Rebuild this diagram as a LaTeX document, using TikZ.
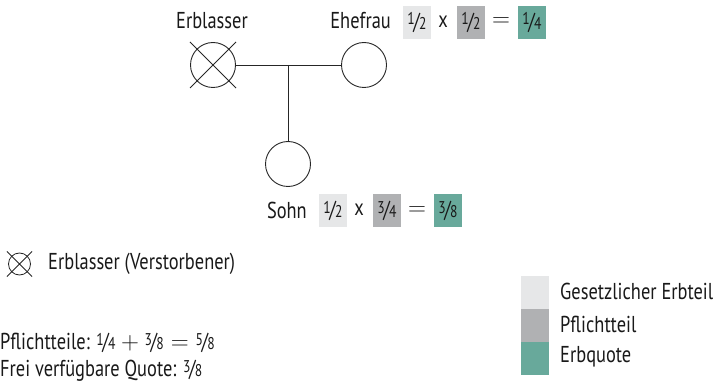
\documentclass[tikz,border=0pt]{standalone}
\usepackage{fontspec}
\setmainfont{PT Sans}[FakeStretch=0.8]
\definecolor{lgray}{HTML}{E6E7E8}
\definecolor{mgray}{HTML}{B0B1B3}
\definecolor{teal2}{HTML}{68A99B}
\newcommand\fr[2]{\raisebox{4.5pt}{\fontsize{17}{17}\selectfont#1}\kern-0.06em/\kern-0.03em{\fontsize{17}{17}\selectfont#2}}
\begin{document}
\begin{tikzpicture}[x=1pt,y=-1pt,
  txt/.style={font=\fontsize{23}{27}\selectfont, inner sep=0pt, text=black!90},
  person/.style={circle, draw=black!85, line width=0.9pt, minimum size=45pt, inner sep=0pt},
  fbox/.style={txt, minimum width=28pt, minimum height=33pt},
  line/.style={draw=black!85, line width=0.9pt},
  legbox/.style={minimum width=28pt, minimum height=33pt, inner sep=0pt}]
\useasboundingbox (0,0) rectangle (713,385);
% people
\node[person] (erb) at (213,65) {};
\draw[line] (190,42) -- (236,88) (190,88) -- (236,42);
\node[person] (ehe) at (364,65) {};
\node[person] (sohn) at (288,164) {};
\coordinate (mid) at (288,65);
\draw[line] (erb) -- (ehe);
\draw[line] (mid) -- (sohn);
% labels
\node[txt] (lerb) at (212,21) {Erblasser};
\node[txt, anchor=east] (lehe) at (391,21) {Ehefrau};
\node[fbox, fill=lgray] (e1) at (417,22.5) {\fr12};
\node[txt] (ex) at (443,21.5) {x};
\node[fbox, fill=mgray] (e2) at (471,22.5) {\fr12};
\node[txt] (eeq) at (501,22.5) {$=$};
\node[fbox, fill=teal2] (e3) at (532,22.5) {\fr14};
\node[txt, anchor=east] (lsohn) at (307,210) {Sohn};
\node[fbox, fill=lgray] (s1) at (333,211) {\fr12};
\node[txt] (sx) at (359,210) {x};
\node[fbox, fill=mgray] (s2) at (387,211) {\fr34};
\node[txt] (seq) at (417,211) {$=$};
\node[fbox, fill=teal2] (s3) at (448,211) {\fr38};
% legend symbol
\node[circle, draw=black!85, line width=0.8pt, minimum size=22pt, inner sep=0pt] (sym) at (19.5,264) {};
\draw[line, line width=0.8pt] (7,251.5) -- (32,276.5) (7,276.5) -- (32,251.5);
\node[txt, anchor=west] (lsym) at (48,264) {Erblasser (Verstorbener)};
\node[txt, anchor=west] (pf) at (0,343) {Pflichtteile: \fr14${}+{}$\fr38${}={}$\fr58};
\node[txt, anchor=west] (fq) at (0,371) {Frei verfügbare Quote: \fr38};
% colour legend
\node[legbox, fill=lgray] (k1) at (535,292) {};
\node[legbox, fill=mgray] (k2) at (535,325) {};
\node[legbox, fill=teal2] (k3) at (535,358) {};
\node[txt, anchor=west] (t1) at (560,291) {Gesetzlicher Erbteil};
\node[txt, anchor=west] (t2) at (560,324) {Pflichtteil};
\node[txt, anchor=west] (t3) at (560,357) {Erbquote};
\end{tikzpicture}
\end{document}
